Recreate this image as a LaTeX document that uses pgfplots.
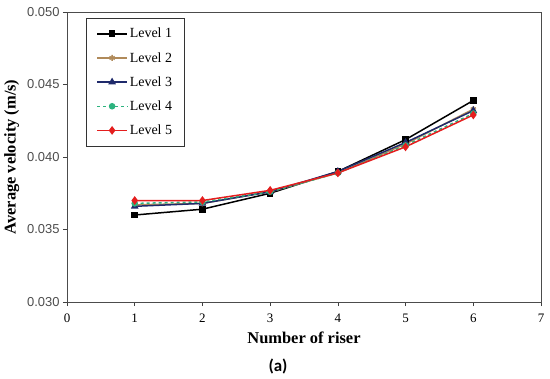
\documentclass[border=0pt]{standalone}
\usepackage{fontspec}
\setmainfont{Liberation Serif}
\newfontfamily\arial{Liberation Sans}
\newfontfamily\carlito{Carlito}
\usepackage{pgfplots}
\pgfplotsset{compat=1.18}
\definecolor{lv1}{HTML}{000000}
\definecolor{lv2}{HTML}{B08A5A}
\definecolor{lv3}{HTML}{1F2A6B}
\definecolor{lv4}{HTML}{2DB37F}
\definecolor{lv5}{HTML}{E41E1E}
\begin{document}
\begin{tikzpicture}[x=1bp,y=1bp]
\path[use as bounding box] (-67,-76) rectangle (483,12+290);
\begin{axis}[
  at={(0,0)}, anchor=south west,
  scale only axis, width=474bp, height=290bp,
  xmin=0, xmax=7, ymin=0.030, ymax=0.050,
  xtick={0,1,...,7}, ytick={0.030,0.035,0.040,0.045,0.050},
  tick align=outside, tick pos=left,
  major tick length=4bp,
  axis line style={black!70, line width=0.9pt},
  tick style={black!75, line width=0.7pt},
  yticklabel style={font=\arial\fontsize{13}{15}\selectfont, text=black!70,
    /pgf/number format/fixed, /pgf/number format/precision=3,
    /pgf/number format/fixed zerofill},
  xticklabel style={font=\fontsize{13}{15}\selectfont, yshift=-4bp},
  /pgf/number format/assume math mode=true,
  scaled y ticks=false,
  xlabel={\bfseries Number of riser},
  ylabel={\bfseries Average velocity (m/s)},
  label style={font=\fontsize{16.5}{18}\selectfont\bfseries},
  xlabel style={yshift=-3bp},
  ylabel style={yshift=1bp},
  legend style={at={(0.04,0.98)}, anchor=north west, draw=black!80, line width=0.8pt,
    font=\fontsize{14}{16}\selectfont, row sep=9bp, inner xsep=10bp, inner ysep=8bp,
    legend cell align=left},
  legend image code/.code={\draw[mark repeat=2,mark phase=2] plot coordinates {(0bp,0bp)(15bp,0bp)(30bp,0bp)};},
  every axis plot/.append style={line width=1.5pt},
]
\addplot[color=lv1, mark=square*, mark size=2.6pt] coordinates {(1,0.0360) (2,0.0364) (3,0.0375) (4,0.0390) (5,0.0412) (6,0.0439)};
\addlegendentry{Level 1}
\addplot[color=lv2, mark=asterisk, mark size=3pt] coordinates {(1,0.0367) (2,0.0368) (3,0.0376) (4,0.0389) (5,0.0409) (6,0.0433)};
\addlegendentry{Level 2}
\addplot[color=lv3, mark=triangle*, mark size=3pt] coordinates {(1,0.0366) (2,0.0368) (3,0.0376) (4,0.0390) (5,0.0410) (6,0.0432)};
\addlegendentry{Level 3}
\addplot[color=lv4, dashed, line width=1.5pt, mark=*, mark size=2.5pt, mark options={solid}] coordinates {(1,0.0368) (2,0.0369) (3,0.0376) (4,0.0389) (5,0.0408) (6,0.0430)};
\addlegendentry{Level 4}
\addplot[color=lv5, mark=diamond*, mark size=3.2pt] coordinates {(1,0.0370) (2,0.0370) (3,0.0377) (4,0.0389) (5,0.0407) (6,0.0429)};
\addlegendentry{Level 5}
\end{axis}
\node[font=\carlito\bfseries\fontsize{17}{19}\selectfont] at (211,-64) {(a)};
\end{tikzpicture}
\end{document}
